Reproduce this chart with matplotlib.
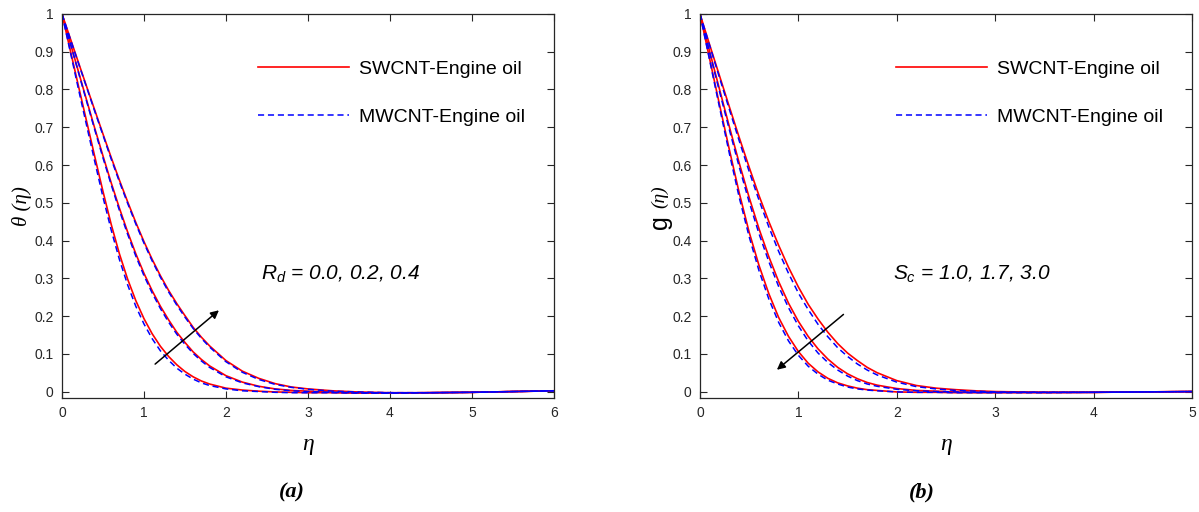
import matplotlib
matplotlib.use('Agg')
import matplotlib.pyplot as plt

plt.rcParams['mathtext.fontset'] = 'custom'
plt.rcParams['mathtext.rm'] = 'Liberation Sans'
plt.rcParams['mathtext.it'] = 'Liberation Sans:italic'
plt.rcParams['font.family'] = 'Liberation Sans'

# ---- temperature profiles, panel (a) ----
eta_a = [0, 0.1, 0.2, 0.3, 0.4, 0.5, 0.6, 0.7, 0.8, 0.9, 1.0, 1.1, 1.2, 1.3, 1.4, 1.5,
         1.6, 1.7, 1.8, 2.0, 2.2, 2.4, 2.6, 2.8, 3.0, 3.3, 3.6, 4.0, 4.5, 5.0, 5.5, 6.0]
rd_labels = ['0.0', '0.2', '0.4']
theta_sw = [
    [1.0, 0.905, 0.810, 0.716, 0.622, 0.530, 0.443, 0.365, 0.298, 0.241, 0.193, 0.153, 0.120, 0.093, 0.071, 0.053,
     0.039, 0.028, 0.020, 0.009, 0.004, 0.001, -0.001, -0.002, -0.003, -0.003, -0.004, -0.004, -0.003, -0.002, 0.0, 0.002],
    [1.0, 0.924, 0.848, 0.772, 0.697, 0.624, 0.553, 0.486, 0.423, 0.365, 0.313, 0.267, 0.226, 0.190, 0.157, 0.130,
     0.105, 0.085, 0.068, 0.042, 0.025, 0.014, 0.007, 0.003, 0.001, -0.002, -0.003, -0.004, -0.003, -0.002, 0.0, 0.002],
    [1.0, 0.936, 0.872, 0.808, 0.745, 0.682, 0.620, 0.560, 0.503, 0.448, 0.397, 0.350, 0.307, 0.268, 0.233, 0.201,
     0.170, 0.144, 0.121, 0.082, 0.054, 0.035, 0.021, 0.012, 0.007, 0.002, -0.001, -0.003, -0.003, -0.002, 0.0, 0.002],
]
theta_mw = [
    [1.0, 0.901, 0.802, 0.705, 0.609, 0.515, 0.428, 0.350, 0.283, 0.226, 0.179, 0.140, 0.108, 0.083, 0.062, 0.046,
     0.033, 0.023, 0.016, 0.007, 0.002, 0.0, -0.002, -0.003, -0.003, -0.003, -0.004, -0.004, -0.003, -0.002, 0.0, 0.002],
    [1.0, 0.923, 0.846, 0.769, 0.693, 0.619, 0.548, 0.480, 0.417, 0.359, 0.307, 0.261, 0.220, 0.184, 0.152, 0.125,
     0.101, 0.081, 0.064, 0.039, 0.023, 0.013, 0.006, 0.002, 0.0, -0.002, -0.003, -0.004, -0.003, -0.002, 0.0, 0.002],
    [1.0, 0.935, 0.870, 0.806, 0.742, 0.679, 0.616, 0.556, 0.499, 0.444, 0.393, 0.346, 0.303, 0.264, 0.229, 0.197,
     0.167, 0.141, 0.118, 0.079, 0.051, 0.032, 0.019, 0.011, 0.006, 0.001, -0.001, -0.003, -0.003, -0.002, 0.0, 0.002],
]

# ---- concentration profiles, panel (b) ----
eta_b = [0, 0.1, 0.2, 0.3, 0.4, 0.5, 0.6, 0.7, 0.8, 0.9, 1.0, 1.1, 1.2, 1.3, 1.4, 1.5,
         1.6, 1.7, 1.8, 2.0, 2.2, 2.4, 2.6, 2.8, 3.0, 3.5, 4.0, 4.5, 5.0]
sc_labels = ['1.0', '1.7', '3.0']
g_sw = [
    [1.0, 0.917, 0.835, 0.753, 0.672, 0.594, 0.519, 0.450, 0.387, 0.329, 0.277, 0.231, 0.192, 0.157, 0.127, 0.102,
     0.082, 0.064, 0.050, 0.029, 0.016, 0.009, 0.005, 0.002, 0.0, -0.002, -0.002, -0.001, 0.0],
    [1.0, 0.899, 0.799, 0.700, 0.604, 0.514, 0.431, 0.357, 0.291, 0.234, 0.186, 0.146, 0.113, 0.086, 0.064, 0.047,
     0.034, 0.024, 0.017, 0.008, 0.003, 0.001, -0.001, -0.002, -0.002, -0.002, -0.002, -0.001, 0.0],
    [1.0, 0.879, 0.758, 0.639, 0.525, 0.422, 0.334, 0.259, 0.196, 0.146, 0.106, 0.075, 0.052, 0.035, 0.023, 0.015,
     0.009, 0.005, 0.003, -0.001, -0.002, -0.002, -0.003, -0.003, -0.003, -0.003, -0.002, -0.001, 0.0],
]
g_mw = [
    [1.0, 0.915, 0.830, 0.746, 0.663, 0.583, 0.507, 0.436, 0.371, 0.313, 0.261, 0.217, 0.178, 0.145, 0.116, 0.093,
     0.073, 0.057, 0.044, 0.025, 0.013, 0.007, 0.003, 0.001, -0.001, -0.002, -0.002, -0.001, 0.0],
    [1.0, 0.896, 0.793, 0.692, 0.594, 0.502, 0.418, 0.344, 0.278, 0.222, 0.174, 0.134, 0.102, 0.077, 0.057, 0.041,
     0.029, 0.020, 0.014, 0.006, 0.002, 0.0, -0.001, -0.002, -0.002, -0.002, -0.002, -0.001, 0.0],
    [1.0, 0.875, 0.751, 0.629, 0.513, 0.410, 0.320, 0.245, 0.183, 0.134, 0.096, 0.067, 0.046, 0.030, 0.020, 0.012,
     0.007, 0.004, 0.002, -0.001, -0.002, -0.002, -0.003, -0.003, -0.003, -0.003, -0.002, -0.001, 0.0],
]

fig = plt.figure(figsize=(11.99, 5.12), dpi=100)
ax1 = fig.add_axes([0.0517, 0.2227, 0.4103, 0.75])
ax2 = fig.add_axes([0.5838, 0.2227, 0.4103, 0.75])

edge = '#262626'


def style_axes(ax, xmax):
    ax.set_xlim(0, xmax)
    ax.set_ylim(-0.017, 1)
    ax.set_xticks(range(0, xmax + 1))
    ax.set_yticks([i / 10 for i in range(11)])
    ax.set_yticklabels(['0'] + ['0.%d' % i for i in range(1, 10)] + ['1'])
    ax.tick_params(direction='in', top=True, right=True, length=5, width=0.8,
                   labelsize=10, colors=edge, pad=6)
    for s in ax.spines.values():
        s.set_color(edge)
        s.set_linewidth(0.9)


def draw_pair(ax, eta, sw, mw):
    for i in range(3):
        ax.plot(eta, sw[i], color='red', lw=1.2,
                label='SWCNT-Engine oil' if i == 0 else None)
    for i in range(3):
        ax.plot(eta, mw[i], color='blue', lw=1.1, dashes=(4, 2.5),
                label='MWCNT-Engine oil' if i == 0 else None)


draw_pair(ax1, eta_a, theta_sw, theta_mw)
draw_pair(ax2, eta_b, g_sw, g_mw)
style_axes(ax1, 6)
style_axes(ax2, 5)

for ax in (ax1, ax2):
    ax.legend(loc='upper left', bbox_to_anchor=(0.398, 0.879), frameon=False,
              fontsize=14, handlelength=4.7, handletextpad=0.5, labelspacing=1.56,
              borderpad=0, borderaxespad=0)
    ax.set_xlabel('η', family='Liberation Serif', style='italic', fontsize=17, labelpad=10)

ax1.set_ylabel('θ (η)', family='Liberation Serif', style='italic', fontsize=15, labelpad=2)
ax2.text(-0.081, 0.458, 'g', transform=ax2.transAxes, rotation=90, fontsize=18,
         ha='center', va='center', color='black')
ax2.text(-0.081, 0.523, '(η)', transform=ax2.transAxes, rotation=90, fontsize=14,
         family='Liberation Serif', style='italic', ha='center', va='center')

ax1.text(2.43, 0.31, r'$R_d$ = 0.0, 0.2, 0.4', fontsize=15, style='italic', va='center')
ax2.text(1.96, 0.31, r'$S_c$ = 1.0, 1.7, 3.0', fontsize=15, style='italic', va='center')

arrow = dict(arrowstyle='-|>', color='black', lw=1.1, mutation_scale=12)
ax1.annotate('', xy=(1.94, 0.22), xytext=(1.11, 0.068), arrowprops=arrow)
ax2.annotate('', xy=(0.76, 0.053), xytext=(1.48, 0.209), arrowprops=arrow)

fig.text(292 / 1199, 1 - 492 / 512, '(a)', family='Liberation Serif', style='italic',
         weight='bold', fontsize=16, ha='center', va='center')
fig.text(922 / 1199, 1 - 492 / 512, '(b)', family='Liberation Serif', style='italic',
         weight='bold', fontsize=16, ha='center', va='center')

fig.savefig('out.png', dpi=100)
